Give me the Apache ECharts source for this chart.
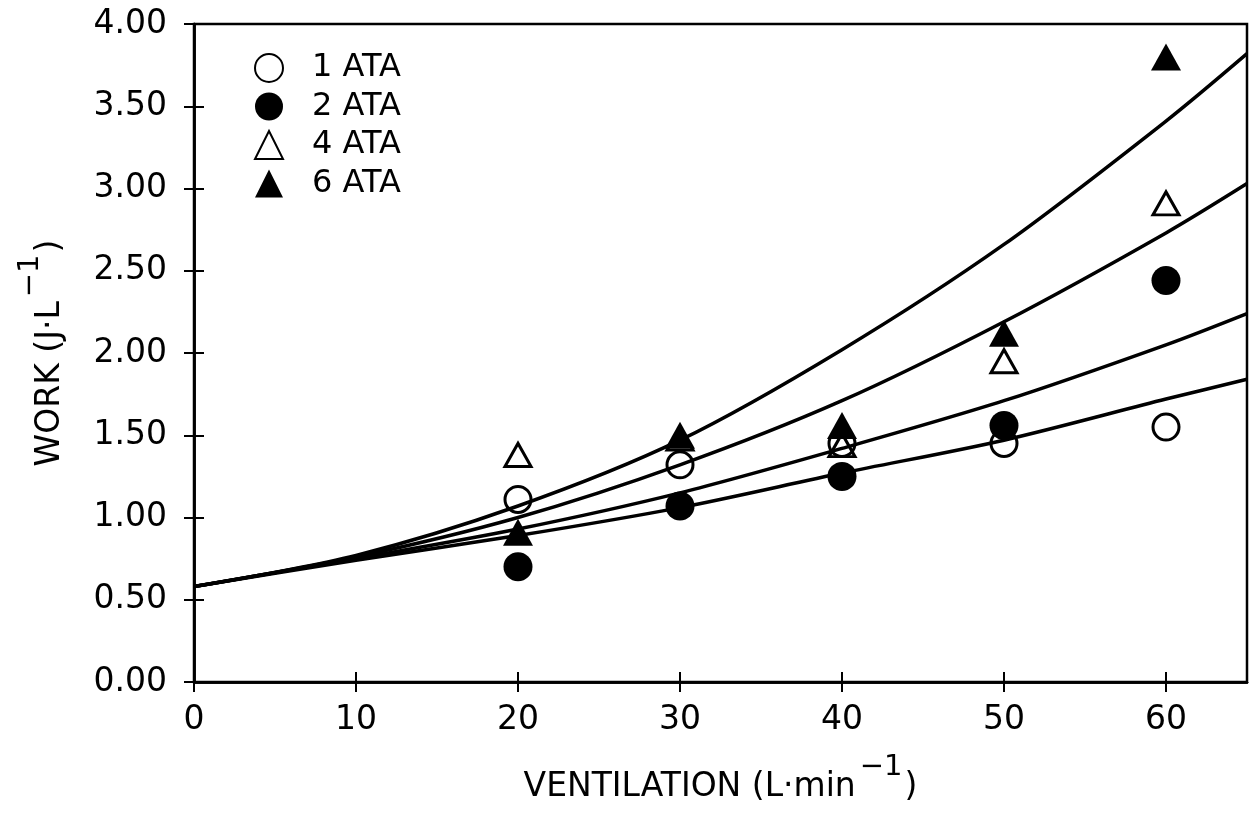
<!DOCTYPE html>
<html>
<head>
<meta charset="utf-8">
<script src="https://cdn.jsdelivr.net/npm/echarts@6/dist/echarts.min.js"></script>
<style>
  html, body { margin: 0; padding: 0; background: #fff; }
  #chart { width: 1249px; height: 815px; }
</style>
</head>
<body>
<div id="chart"></div>
<script>
// Measured points: work of breathing vs ventilation at four pressures
const ventilation = [20, 30, 40, 50, 60];
const ata1 = [1.11, 1.32, 1.45, 1.45, 1.55];
const ata2 = [0.70, 1.07, 1.25, 1.56, 2.44];
const ata4 = [1.38, 1.48, 1.44, 1.95, 2.91];
const ata6 = [0.91, 1.50, 1.56, 2.12, 3.80];

// Fitted curves, sampled along ventilation
const fitX = [0, 10, 20, 30, 40, 50, 60, 65];
const fit1 = [0.58, 0.74, 0.89, 1.06, 1.27, 1.47, 1.72, 1.84];
const fit2 = [0.58, 0.75, 0.93, 1.15, 1.42, 1.71, 2.05, 2.24];
const fit4 = [0.58, 0.76, 1.00, 1.32, 1.71, 2.19, 2.73, 3.03];
const fit6 = [0.58, 0.77, 1.07, 1.47, 2.02, 2.66, 3.41, 3.82];

const seriesNames = ['1 ATA', '2 ATA', '4 ATA', '6 ATA'];
const yTicks = { min: 0, max: 4, step: 0.5 };
const xTicks = { min: 0, max: 65, step: 10 };

const FONT = 'DejaVu Sans';
const INK = '#000';

const pairs = (xs, ys) => xs.map((x, i) => [x, ys[i]]);

function fitLine(ys) {
  return {
    type: 'line',
    xAxisIndex: 0, yAxisIndex: 0,
    data: pairs(fitX, ys),
    smooth: 0.3,
    showSymbol: false,
    symbol: 'none',
    silent: true,
    z: 2,
    lineStyle: { color: INK, width: 3.5 }
  };
}

function points(name, ys, symbol, filled) {
  const isTri = symbol === 'triangle';
  return {
    name,
    type: 'scatter',
    xAxisIndex: 0, yAxisIndex: 0,
    data: pairs(ventilation, ys),
    symbol,
    symbolSize: isTri ? (filled ? [30, 27] : [26, 23]) : (filled ? 29 : 26),
    z: 5,
    itemStyle: filled
      ? { color: INK, borderWidth: 0, opacity: 1 }
      : { color: 'rgba(0,0,0,0)', borderColor: INK, borderWidth: 3, opacity: 1 }
  };
}

const tickOut = { show: true, length: 10, inside: false, lineStyle: { color: INK, width: 2 } };
const tickIn = { show: true, length: 10, inside: true, lineStyle: { color: INK, width: 2 } };
const line = { show: true, onZero: false, lineStyle: { color: INK, width: 2.5 } };

// superscript exponent in axis titles
const supStyle = {
  fontFamily: FONT, fontSize: 29, color: INK,
  verticalAlign: 'bottom', padding: [0, 2, 22, 4]
};
const baseStyle = { fontFamily: FONT, fontSize: 33, color: INK, verticalAlign: 'bottom' };

const baseX = {
  type: 'value', min: xTicks.min, max: xTicks.max, interval: xTicks.step,
  position: 'bottom', splitLine: { show: false }, axisLine: line
};
const baseY = {
  type: 'value', min: yTicks.min, max: yTicks.max, interval: yTicks.step,
  position: 'left', splitLine: { show: false }, axisLine: line
};

const chart = echarts.init(document.getElementById('chart'), null, { renderer: 'canvas' });

chart.setOption({
  backgroundColor: '#fff',
  animation: false,
  textStyle: { fontFamily: FONT, color: INK },
  grid: {
    left: 194, right: 2, top: 24, bottom: 133,
    show: true, borderColor: INK, borderWidth: 2.5, backgroundColor: 'transparent'
  },
  legend: {
    data: seriesNames,
    orient: 'vertical',
    left: 249, top: 46,
    itemWidth: 28, itemHeight: 28, itemGap: 4.5,
    selectedMode: false,
    textStyle: { fontFamily: FONT, fontSize: 32, color: INK, lineHeight: 34, padding: [0, 0, 0, 24] }
  },
  xAxis: [
    Object.assign({}, baseX, {
      axisTick: tickOut,
      axisLabel: {
        show: true, margin: 22, fontFamily: FONT, fontSize: 33, color: INK,
        showMaxLabel: false,
        formatter: v => (v % xTicks.step === 0 ? String(v) : '')
      },
      name: '{base|VENTILATION (L·min}{sup|−1}{base|)}',
      nameLocation: 'middle',
      nameGap: 71,
      nameTextStyle: {
        fontFamily: FONT, fontSize: 33, color: INK, verticalAlign: 'top',
        rich: { base: baseStyle, sup: supStyle }
      }
    }),
    Object.assign({}, baseX, { axisTick: tickIn, axisLabel: { show: false } })
  ],
  yAxis: [
    Object.assign({}, baseY, {
      axisTick: tickOut,
      axisLabel: {
        show: true, margin: 27, fontFamily: FONT, fontSize: 33, color: INK,
        formatter: v => v.toFixed(2)
      },
      name: '{base|WORK (J·L}{sup|−1}{base|)}',
      nameLocation: 'middle',
      nameRotate: 90,
      nameGap: 127,
      nameTextStyle: {
        fontFamily: FONT, fontSize: 33, color: INK,
        rich: { base: baseStyle, sup: supStyle }
      }
    }),
    Object.assign({}, baseY, { axisTick: tickIn, axisLabel: { show: false } })
  ],
  series: [
    fitLine(fit1),
    fitLine(fit2),
    fitLine(fit4),
    fitLine(fit6),
    points(seriesNames[0], ata1, 'circle', false),
    points(seriesNames[1], ata2, 'circle', true),
    points(seriesNames[2], ata4, 'triangle', false),
    points(seriesNames[3], ata6, 'triangle', true)
  ]
});
</script>
</body>
</html>
